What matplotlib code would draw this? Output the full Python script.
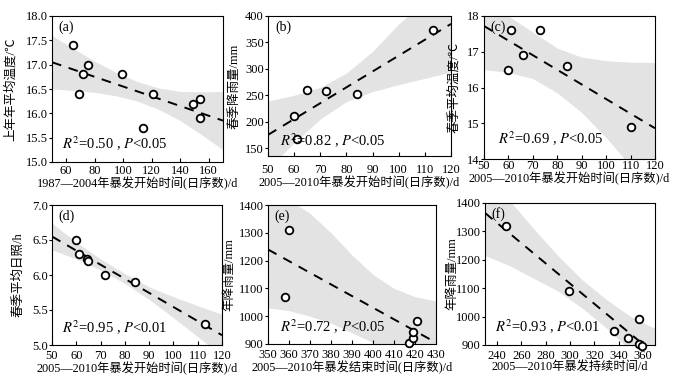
import matplotlib
matplotlib.use('Agg')
import matplotlib.pyplot as plt
import numpy as np

plt.rcParams['font.family'] = ['Liberation Serif', 'Noto Sans CJK SC', 'DejaVu Sans']
plt.rcParams['mathtext.fontset'] = 'stix'

# (a) 1987-2004 onset vs previous-year mean temperature
a_x = [65, 69, 72, 75, 99, 114, 121, 149, 154, 154]
a_y = [17.4, 16.4, 16.8, 17.0, 16.8, 15.7, 16.4, 16.2, 16.3, 15.9]
a_line = [(50, 170), (17.05, 15.85)]
a_bx = [50, 65, 80, 95, 110, 125, 140, 155, 170]
a_up = [17.60, 17.33, 17.07, 16.84, 16.65, 16.52, 16.45, 16.44, 16.45]
a_lo = [16.50, 16.47, 16.43, 16.36, 16.25, 16.08, 15.85, 15.56, 15.25]

# (b) onset vs spring rainfall
b_x = [60, 61, 65, 72, 84, 113]
b_y = [210, 168, 260, 258, 252, 373]
b_line = [(50, 120), (175, 385)]
b_bx = [50, 60, 70, 80, 90, 100, 110, 120]
b_up = [239, 250, 265, 292, 333, 385, 428, 476]
b_lo = [111, 160, 205, 238, 257, 270, 282, 294]

# (c) onset vs spring mean temperature
c_x = [60, 61, 66, 73, 84, 110]
c_y = [16.5, 17.6, 16.9, 17.6, 16.6, 14.9]
c_line = [(50, 120), (17.72, 14.86)]
c_bx = [50, 60, 70, 80, 90, 100, 110, 120]
c_up = [18.6, 18.0, 17.55, 17.1, 16.85, 16.75, 16.71, 16.70]
c_lo = [16.50, 16.42, 16.25, 15.85, 15.3, 14.6, 13.8, 13.0]

# (d) onset vs spring sunshine
d_x = [60, 61, 64.5, 65, 72, 84, 113]
d_y = [6.5, 6.3, 6.23, 6.2, 6.0, 5.9, 5.3]
d_line = [(50, 120), (6.55, 5.14)]
d_bx = [50, 60, 70, 80, 90, 100, 110, 120]
d_up = [6.74, 6.47, 6.23, 6.02, 5.83, 5.69, 5.56, 5.44]
d_lo = [6.36, 6.23, 6.07, 5.88, 5.65, 5.39, 5.12, 4.84]

# (e) end time vs annual rainfall
e_x = [358, 360, 417, 419, 419, 421]
e_y = [1070, 1310, 905, 922, 942, 983]
e_line = [(350, 430), (1240, 905)]
e_bx = [350, 360, 370, 380, 390, 400, 410, 420, 430]
e_up = [1460, 1418, 1370, 1300, 1220, 1150, 1100, 1070, 1055]
e_lo = [1030, 1020, 1000, 975, 940, 905, 860, 820, 770]

# (f) duration vs annual rainfall
f_x = [247, 299, 336, 348, 357, 357, 359]
f_y = [1320, 1090, 948, 925, 990, 905, 898]
f_line = [(230, 360), (1365, 903)]
f_bx = [230, 250, 270, 290, 310, 330, 350, 370]
f_up = [1520, 1410, 1310, 1215, 1130, 1060, 1000, 958]
f_lo = [1215, 1180, 1135, 1090, 1030, 960, 880, 790]

W, H = 682, 383
fig = plt.figure(figsize=(W / 100, H / 100), dpi=100)


def box(l, r, t, b):
    return [l / W, 1 - b / H, (r - l) / W, (b - t) / H]


panels = [
    dict(rect=box(52, 223, 16, 162), x=a_x, y=a_y, line=a_line, bx=a_bx, up=a_up, lo=a_lo,
         xlim=(50, 170), ylim=(15, 18), xt=np.arange(60, 161, 20), yt=np.arange(15, 18.01, 0.5),
         yfmt='{:.1f}', tag='(a)', r2='0.50', p='0.05', tpos=(0.06, 0.06), ylx=-0.205, xpad=2,
         xl='1987—2004年暴发开始时间(日序数)/d', yl='上年年平均温度/℃'),
    dict(rect=box(268, 451, 16, 156), x=b_x, y=b_y, line=b_line, bx=b_bx, up=b_up, lo=b_lo,
         xlim=(50, 120), ylim=(135, 400), xt=np.arange(50, 121, 10), yt=np.arange(150, 401, 50),
         yfmt='{:.0f}', tag='(b)', r2='0.82', p='0.05', tpos=(0.065, 0.04), ylx=-0.15, xpad=6,
         xl='2005—2010年暴发开始时间(日序数)/d', yl='春季降雨量/mm'),
    dict(rect=box(484, 655, 16, 159), x=c_x, y=c_y, line=c_line, bx=c_bx, up=c_up, lo=c_lo,
         xlim=(50, 120), ylim=(14, 18), xt=np.arange(50, 121, 10), yt=np.arange(14, 18.01, 1),
         yfmt='{:.0f}', tag='(c)', r2='0.69', p='0.05', tpos=(0.08, 0.08), ylx=-0.14, xpad=0.5,
         xl='2005—2010年暴发开始时间(日序数)/d', yl='春季平均温度/℃'),
    dict(rect=box(52, 222, 205, 345), x=d_x, y=d_y, line=d_line, bx=d_bx, up=d_up, lo=d_lo,
         xlim=(50, 120), ylim=(5, 7), xt=np.arange(50, 121, 10), yt=np.arange(5, 7.01, 0.5),
         yfmt='{:.1f}', tag='(d)', r2='0.95', p='0.01', tpos=(0.06, 0.06), ylx=-0.159, xpad=3.5,
         xl='2005—2010年暴发开始时间(日序数)/d', yl='春季平均日照/h'),
    dict(rect=box(268, 436, 205, 344), x=e_x, y=e_y, line=e_line, bx=e_bx, up=e_up, lo=e_lo,
         xlim=(350, 430), ylim=(900, 1400), xt=np.arange(350, 431, 10), yt=np.arange(900, 1401, 100),
         yfmt='{:.0f}', tag='(e)', r2='0.72', p='0.05', tpos=(0.07, 0.06), ylx=-0.196, xpad=3.5,
         xl='2005—2010年暴发结束时间(日序数)/d', yl='年降雨量/mm'),
    dict(rect=box(485, 655, 203, 345), x=f_x, y=f_y, line=f_line, bx=f_bx, up=f_up, lo=f_lo,
         xlim=(230, 370), ylim=(900, 1400), xt=np.arange(240, 361, 20), yt=np.arange(900, 1401, 100),
         yfmt='{:.0f}', tag='(f)', r2='0.93', p='0.01', tpos=(0.06, 0.06), ylx=-0.159, xpad=3.5,
         xl='2005—2010年暴发持续时间/d', yl='年降雨量/mm'),
]

for pn in panels:
    ax = fig.add_axes(pn['rect'])
    ax.fill_between(pn['bx'], pn['lo'], pn['up'], color='#e3e3e3', lw=0, zorder=1)
    ax.plot(pn['line'][0], pn['line'][1], color='black', lw=1.4, ls=(0, (5, 4)), zorder=2)
    ax.plot(pn['x'], pn['y'], ls='None', marker='o', ms=5.5, mfc='white', mec='black', mew=1.3,
            zorder=3, clip_on=False)
    ax.set_xlim(pn['xlim'])
    ax.set_ylim(pn['ylim'])
    ax.set_xticks(pn['xt'])
    ax.set_yticks(pn['yt'])
    ax.set_yticklabels([pn['yfmt'].format(v) for v in pn['yt']])
    ax.tick_params(axis='x', direction='in', length=3, width=0.8, labelsize=9, pad=pn['xpad'])
    ax.tick_params(axis='y', direction='out', length=2.5, width=0.8, labelsize=9, pad=0.5)
    for s in ax.spines.values():
        s.set_linewidth(0.8)
    ax.set_xlabel(pn['xl'], fontsize=8.8, labelpad=0)
    ax.set_ylabel(pn['yl'], fontsize=9)
    ax.yaxis.set_label_coords(pn['ylx'], 0.5)
    ax.text(0.04, 0.97, pn['tag'], transform=ax.transAxes, ha='left', va='top', fontsize=10)
    ax.text(pn['tpos'][0], pn['tpos'][1],
            r'$R^2$=' + pn['r2'] + r' , $P$<' + pn['p'],
            transform=ax.transAxes, ha='left', va='bottom', fontsize=10.5)

fig.savefig('out.png', dpi=100)
